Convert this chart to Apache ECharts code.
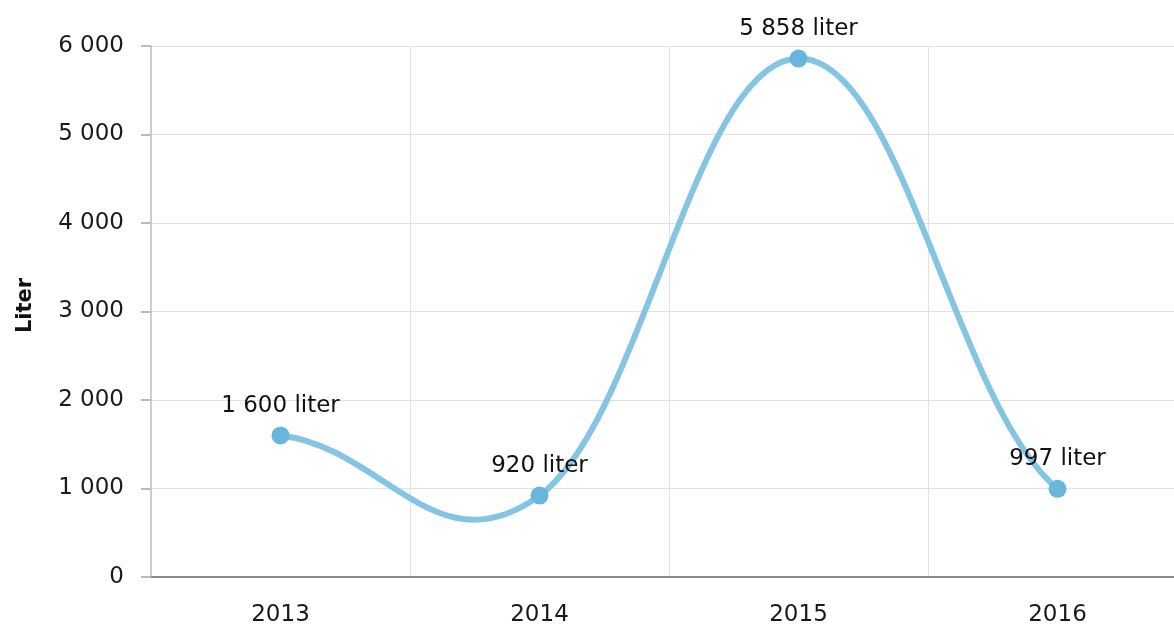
<!DOCTYPE html>
<html><head><meta charset="utf-8">
<script src="https://cdn.jsdelivr.net/npm/echarts@6/dist/echarts.min.js"></script>
<style>html,body{margin:0;padding:0;background:#fff}#c{width:1174px;height:627px}</style>
</head><body><div id="c"></div>
<script>
const categories = ['2013', '2014', '2015', '2016'];
const values = [1600, 920, 5858, 997];
const yTicks = [0, 1000, 2000, 3000, 4000, 5000, 6000];
const unit = 'liter';
const axisName = 'Liter';

function fmt(v) { return String(v).replace(/\B(?=(\d{3})+(?!\d))/g, ' '); }

const FONT = 'DejaVu Sans';
const SMOOTHING = 1.5;

// spline control points computed in pixel space from the axis scales;
// the ends use a flat virtual neighbour one category step away
function controls(api, i) {
  const n = values.length;
  const p = api.coord([i, values[i]]);
  let a = i > 0 ? api.coord([i - 1, values[i - 1]]) : null;
  let b = i < n - 1 ? api.coord([i + 1, values[i + 1]]) : null;
  if (!a) a = [p[0] - (b[0] - p[0]), p[1]];
  if (!b) b = [p[0] + (p[0] - a[0]), p[1]];
  const d = SMOOTHING + 1;
  const lx = (SMOOTHING * p[0] + a[0]) / d;
  let ly = (SMOOTHING * p[1] + a[1]) / d;
  const rx = (SMOOTHING * p[0] + b[0]) / d;
  let ry = (SMOOTHING * p[1] + b[1]) / d;
  const corr = ((ry - ly) * (rx - p[0])) / (rx - lx) + p[1] - ry;
  ly += corr; ry += corr;
  return { p: p, l: [lx, ly], r: [rx, ry] };
}

const chart = echarts.init(document.getElementById('c'));
chart.setOption({
  animation: false,
  textStyle: { fontFamily: FONT },
  grid: { left: 151, width: 1036, top: 46, height: 531, containLabel: false, outerBoundsMode: 'none' },
  xAxis: {
    type: 'category', data: categories, boundaryGap: true,
    axisLine: { lineStyle: { color: '#8a8a8a', width: 2 } },
    axisTick: { alignWithLabel: true, length: 10, lineStyle: { color: '#999', width: 2 } },
    axisLabel: { color: '#1a1a1a', fontSize: 23, margin: 27, fontFamily: FONT },
    splitLine: { show: true, lineStyle: { color: '#e2e2e2', width: 1 } }
  },
  yAxis: {
    type: 'value', min: yTicks[0], max: yTicks[yTicks.length - 1], interval: 1000,
    name: axisName, nameLocation: 'middle', nameGap: 115, nameRotate: 90,
    nameTextStyle: { color: '#111', fontWeight: 'bold', fontSize: 21, fontFamily: FONT, padding: [0, 0, 0, 12] },
    axisLine: { show: true, lineStyle: { color: '#cccccc', width: 2 } },
    axisTick: { show: true, length: 10, lineStyle: { color: '#bbb', width: 2 } },
    axisLabel: { color: '#1a1a1a', fontSize: 23, margin: 27, formatter: v => fmt(v), fontFamily: FONT },
    splitLine: { lineStyle: { color: '#e2e2e2', width: 1 } }
  },
  series: [{
    type: 'custom',
    data: values.map((v, i) => [i, v]),
    z: 2,
    silent: true,
    clip: false,
    renderItem: function (params, api) {
      const i = params.dataIndex;
      if (i === 0) return null;
      const s = controls(api, i - 1), e = controls(api, i);
      return {
        type: 'bezierCurve',
        shape: { x1: s.p[0], y1: s.p[1], cpx1: s.r[0], cpy1: s.r[1], cpx2: e.l[0], cpy2: e.l[1], x2: e.p[0], y2: e.p[1] },
        style: { stroke: '#84c5e4', lineWidth: 6, fill: null, lineCap: 'round' }
      };
    }
  }, {
    type: 'scatter', data: values, z: 3,
    symbol: 'circle', symbolSize: 18,
    itemStyle: { color: '#68b6dc', opacity: 1 },
    label: { show: true, position: 'top', distance: 9, color: '#111', fontSize: 23,
      fontFamily: FONT, formatter: p => fmt(p.value) + ' ' + unit }
  }]
});
</script></body></html>
